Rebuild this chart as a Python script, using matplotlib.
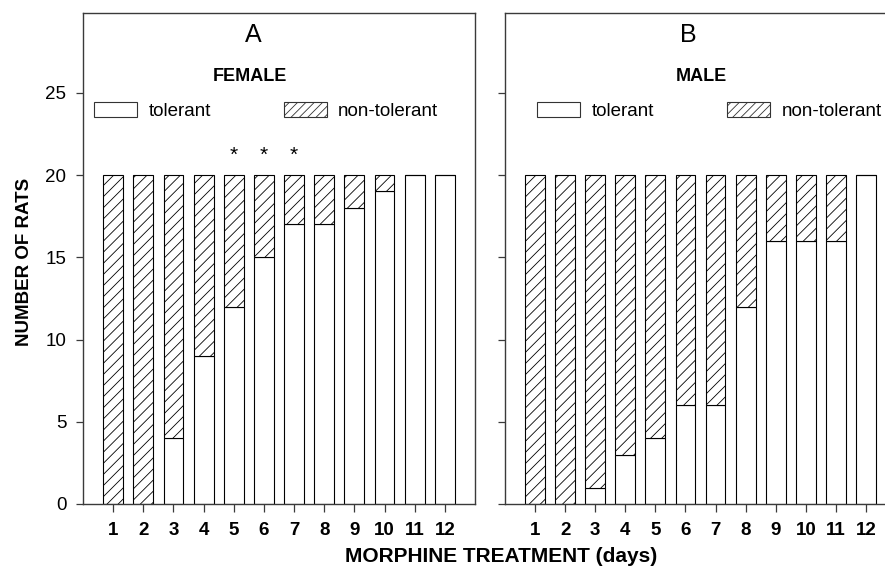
import matplotlib
matplotlib.use("Agg")
import matplotlib.pyplot as plt
from matplotlib.patches import Patch
import numpy as np

plt.rcParams['font.family'] = ['Liberation Sans', 'DejaVu Sans']
plt.rcParams['hatch.linewidth'] = 0.6

days = [1, 2, 3, 4, 5, 6, 7, 8, 9, 10, 11, 12]
total_rats = 20
female_tolerant = [0, 0, 4, 9, 12, 15, 17, 17, 18, 19, 20, 20]
male_tolerant = [0, 0, 1, 3, 4, 6, 6, 12, 16, 16, 16, 20]
star_days = [5, 6, 7]
yticks = [0, 5, 10, 15, 20, 25]

W, H = 885, 573
fig = plt.figure(figsize=(W / 100, H / 100), dpi=100)

def px_axes(left, top, right, bottom):
    return fig.add_axes([left / W, 1 - bottom / H, (right - left) / W, (bottom - top) / H])

axA = px_axes(83, 13, 475, 504)
axB = px_axes(505, 13, 896, 504)

spine_col = '#3a3a3a'

def draw(ax, tol, letter, letter_x, sex, sex_x, leg_x, show_ylabels, stars):
    tol = np.array(tol)
    non = total_rats - tol
    x = np.array(days)
    ax.bar(x, tol, width=0.66, color='white', edgecolor='black', linewidth=0.8)
    ax.bar(x, non, bottom=tol, width=0.66, color='white', edgecolor='black',
           linewidth=0.8, hatch='///')
    ax.set_xlim(0, 13)
    ax.set_ylim(0, 29.85)
    ax.set_xticks(days)
    ax.set_xticklabels([str(d) for d in days], fontsize=13.5, fontweight='bold')
    ax.set_yticks(yticks)
    if show_ylabels:
        ax.set_yticklabels([str(v) for v in yticks], fontsize=13.5)
    else:
        ax.set_yticklabels([])
    ax.tick_params(axis='y', direction='out', length=5, width=0.9, pad=7, colors=spine_col, labelcolor='black')
    ax.tick_params(axis='x', direction='out', length=6, width=0.9, pad=7, colors=spine_col, labelcolor='black')
    for s in ax.spines.values():
        s.set_color(spine_col)
        s.set_linewidth(1.0)
    ax.text(letter_x, 28.5, letter, transform=ax.get_yaxis_transform(), ha='center', va='center', fontsize=18)
    ax.text(sex_x, 26.0, sex, transform=ax.get_yaxis_transform(), ha='center', va='center',
            fontsize=13, fontweight='bold')
    for d in stars:
        ax.text(d, 21.2, '*', ha='center', va='center', fontsize=15)
    handles = [Patch(facecolor='white', edgecolor='#333333', linewidth=0.8, label='tolerant'),
               Patch(facecolor='white', edgecolor='#333333', linewidth=0.8, hatch='////', label='non-tolerant')]
    ax.legend(handles=handles, ncol=2, frameon=False, loc='upper left',
              bbox_to_anchor=(leg_x, 0.818), borderpad=0, borderaxespad=0,
              handlelength=2.3, handleheight=0.8, handletextpad=0.6,
              columnspacing=3.9, fontsize=13.5)

draw(axA, female_tolerant, 'A', 0.434, 'FEMALE', 0.427, 0.028, True, star_days)
draw(axB, male_tolerant, 'B', 0.469, 'MALE', 0.501, 0.082, False, [])

fig.text(25 / W, 1 - 262 / H, 'NUMBER OF RATS', rotation=90, ha='center', va='center',
         fontsize=13.5, fontweight='bold')
fig.text(501 / W, 1 - 556 / H, 'MORPHINE TREATMENT (days)', ha='center', va='center',
         fontsize=15, fontweight='bold')

fig.savefig('out.png', dpi=100)
